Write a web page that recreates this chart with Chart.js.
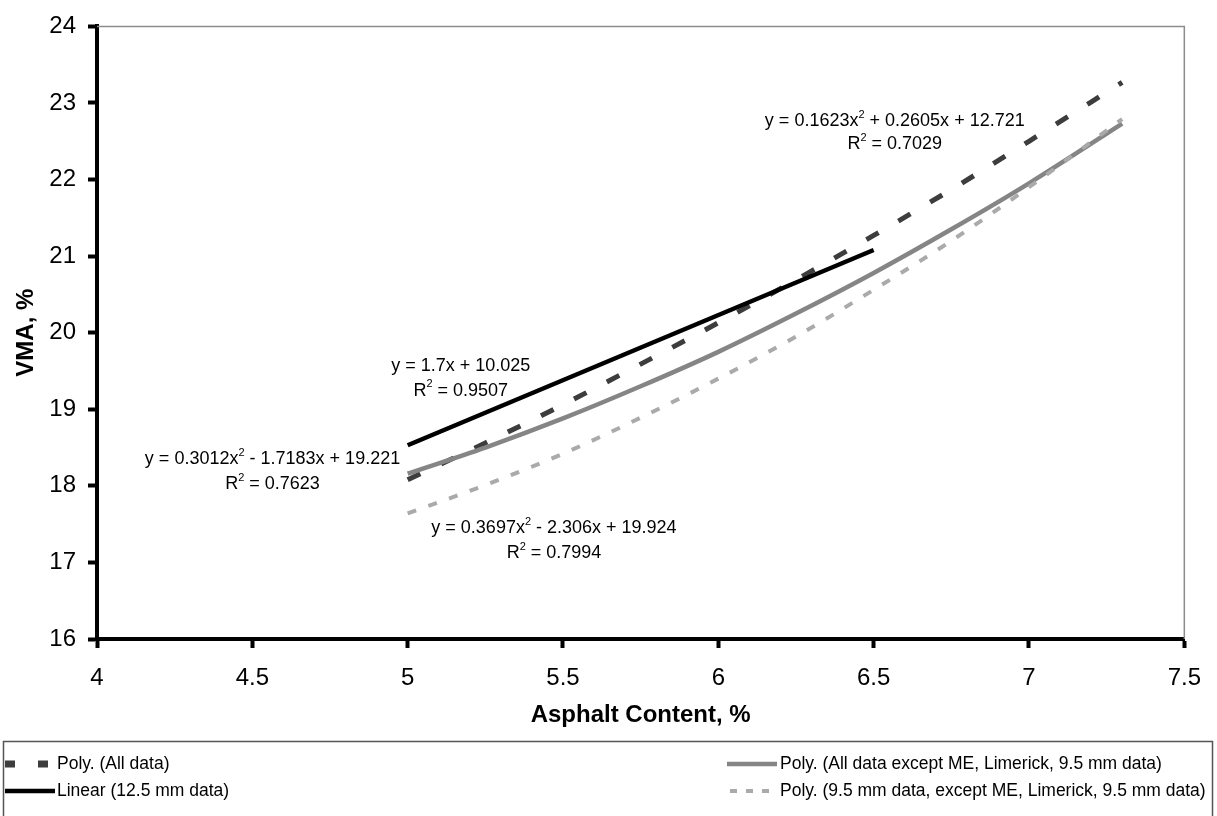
<!DOCTYPE html>
<html>
<head>
<meta charset="utf-8">
<script src="https://cdn.jsdelivr.net/npm/chart.js@4.4.1/dist/chart.umd.min.js"></script>
<style>
    html, body { margin: 0; padding: 0; background: #fff; }
    #wrap { width: 1217px; height: 816px; position: relative; }
</style>
</head>
<body>
<div id="wrap"><canvas id="vmaChart"></canvas></div>
<script>
// x positions of the trend curves (asphalt content, %)
const polyX = [5, 5.25, 5.5, 5.75, 6, 6.25, 6.5, 6.75, 7, 7.3];
const linearX = [5, 6.5];

// VMA, %
const polyAllData    = [18.08, 18.56, 19.06, 19.59, 20.13, 20.69, 21.27, 21.87, 22.50, 23.27];
const linear125      = [18.53, 21.08];
const polyExceptME   = [18.16, 18.50, 18.88, 19.30, 19.75, 20.25, 20.78, 21.35, 21.95, 22.73];
const poly95         = [17.64, 18.01, 18.42, 18.89, 19.40, 19.95, 20.56, 21.20, 21.90, 22.79];

const seriesLabels = [
    'Poly. (All data)',
    'Linear (12.5 mm data)',
    'Poly. (All data except ME, Limerick, 9.5 mm data)',
    'Poly. (9.5 mm data, except ME, Limerick, 9.5 mm data)'
];

const xTicks = [4, 4.5, 5, 5.5, 6, 6.5, 7, 7.5];
const yTicks = [16, 17, 18, 19, 20, 21, 22, 23, 24];

// trendline equations shown on the chart
const equations = [
    ['y = 0.1623x² + 0.2605x + 12.721', 'R² = 0.7029'],
    ['y = 1.7x + 10.025', 'R² = 0.9507'],
    ['y = 0.3012x² - 1.7183x + 19.221', 'R² = 0.7623'],
    ['y = 0.3697x² - 2.306x + 19.924', 'R² = 0.7994']
];

const FONT = '"Liberation Sans", Arial, sans-serif';

function toPoints(xs, ys) {
    return xs.map((x, i) => ({ x: x, y: ys[i] }));
}

// where each equation label sits (data coords of the first line's centre)
const eqAnchors = [
    { x: 6.568, y: 22.76, dy: 23 },
    { x: 5.171, y: 19.57, dy: 25 },
    { x: 4.565, y: 18.35, dy: 25 },
    { x: 5.471, y: 17.45, dy: 25 }
];

// text with a raised "2"
function drawSupText(ctx, text, cx, cy, size) {
    const parts = text.split('²');
    const normal = size + 'px ' + FONT;
    const small = Math.round(size * 0.62) + 'px ' + FONT;
    let total = 0;
    parts.forEach((p, i) => {
        ctx.font = normal;
        total += ctx.measureText(p).width;
        if (i < parts.length - 1) {
            ctx.font = small;
            total += ctx.measureText('2').width;
        }
    });
    let x = cx - total / 2;
    ctx.textAlign = 'left';
    ctx.textBaseline = 'middle';
    parts.forEach((p, i) => {
        ctx.font = normal;
        ctx.fillText(p, x, cy);
        x += ctx.measureText(p).width;
        if (i < parts.length - 1) {
            ctx.font = small;
            ctx.fillText('2', x, cy - size * 0.36);
            x += ctx.measureText('2').width;
        }
    });
}

const frameAndLabels = {
    id: 'frameAndLabels',
    beforeDatasetsDraw(chart) {
        // thin grey top and right edges of the plot area
        const { ctx, chartArea: a } = chart;
        ctx.save();
        ctx.strokeStyle = '#8c8c8c';
        ctx.lineWidth = 1.5;
        ctx.beginPath();
        ctx.moveTo(a.left, a.top);
        ctx.lineTo(a.right, a.top);
        ctx.lineTo(a.right, a.bottom);
        ctx.stroke();
        ctx.restore();
    },
    afterDraw(chart) {
        const { ctx } = chart;
        const xs = chart.scales.x, ys = chart.scales.y;
        ctx.save();
        ctx.fillStyle = '#000';
        equations.forEach((lines, i) => {
            const an = eqAnchors[i];
            const px = xs.getPixelForValue(an.x);
            const py = ys.getPixelForValue(an.y);
            drawSupText(ctx, lines[0], px, py, 18);
            drawSupText(ctx, lines[1], px, py + an.dy, 18);
        });

        // legend box under the chart
        ctx.strokeStyle = '#555';
        ctx.lineWidth = 1.5;
        ctx.strokeRect(3.5, 741.5, 1209, 80);
        const ds = chart.data.datasets;
        const slots = [
            { x0: 5, x1: 55, tx: 57, y: 764 },
            { x0: 5, x1: 55, tx: 57, y: 791 },
            { x0: 727, x1: 777, tx: 780, y: 764 },
            { x0: 730, x1: 777, tx: 780, y: 791 }
        ];
        ds.forEach((d, i) => {
            const s = slots[i];
            ctx.beginPath();
            ctx.strokeStyle = d.borderColor;
            ctx.lineWidth = d.legendWidth;
            ctx.setLineDash(d.legendDash);
            ctx.moveTo(s.x0, s.y);
            ctx.lineTo(s.x1, s.y);
            ctx.stroke();
            ctx.setLineDash([]);
            ctx.fillStyle = '#000';
            ctx.font = '17.5px ' + FONT;
            ctx.textAlign = 'left';
            ctx.textBaseline = 'middle';
            ctx.fillText(d.label, s.tx, s.y);
        });
        ctx.restore();
    }
};

const ctx = document.getElementById('vmaChart').getContext('2d');

const config = {
    type: 'scatter',
    data: {
        datasets: [
            {
                label: seriesLabels[0],
                data: toPoints(polyX, polyAllData),
                borderColor: '#3d3d3d',
                borderWidth: 5,
                borderDash: [14, 23],
                legendDash: [10, 23],
                legendWidth: 7,
                order: 3
            },
            {
                label: seriesLabels[1],
                data: toPoints(linearX, linear125),
                borderColor: '#000',
                borderWidth: 4.5,
                legendDash: [],
                legendWidth: 4.5,
                order: 2
            },
            {
                label: seriesLabels[2],
                data: toPoints(polyX, polyExceptME),
                borderColor: '#858585',
                borderWidth: 4.5,
                legendDash: [],
                legendWidth: 4.5,
                order: 1
            },
            {
                label: seriesLabels[3],
                data: toPoints(polyX, poly95),
                borderColor: '#aaaaaa',
                borderWidth: 4,
                borderDash: [9, 13],
                legendDash: [7, 9],
                legendWidth: 4,
                order: 0
            }
        ].map(d => Object.assign(d, {
            showLine: true,
            pointRadius: 0,
            pointHoverRadius: 0,
            fill: false,
            cubicInterpolationMode: 'monotone'
        }))
    },
    options: {
        responsive: true,
        maintainAspectRatio: false,
        animation: false,
        layout: {
            autoPadding: false,
            padding: { left: 0, top: 19, right: 30, bottom: 75 }
        },
        plugins: {
            legend: { display: false },
            tooltip: { enabled: false }
        },
        scales: {
            x: {
                type: 'linear',
                min: 4,
                max: 7.5,
                afterBuildTicks: s => { s.ticks = xTicks.map(v => ({ value: v })); },
                afterFit: s => { s.height = 102; },
                border: { display: true, color: '#000', width: 4 },
                grid: {
                    drawOnChartArea: false,
                    drawTicks: true,
                    tickLength: 9,
                    tickWidth: 4,
                    tickColor: '#000'
                },
                ticks: {
                    color: '#000',
                    font: { family: FONT, size: 24 },
                    padding: 16,
                    maxRotation: 0,
                    callback: v => String(v)
                },
                title: {
                    display: true,
                    text: 'Asphalt Content, %',
                    color: '#000',
                    font: { family: FONT, size: 24, weight: 'bold' },
                    padding: { top: 0, bottom: 11 }
                }
            },
            y: {
                type: 'linear',
                min: 16,
                max: 24,
                afterBuildTicks: s => { s.ticks = yTicks.map(v => ({ value: v })); },
                afterFit: s => { s.width = 97; },
                border: { display: true, color: '#000', width: 4 },
                grid: {
                    drawOnChartArea: false,
                    drawTicks: true,
                    tickLength: 9,
                    tickWidth: 4,
                    tickColor: '#000'
                },
                ticks: {
                    color: '#000',
                    font: { family: FONT, size: 24 },
                    padding: 12,
                    callback: v => String(v)
                },
                title: {
                    display: true,
                    text: 'VMA, %',
                    color: '#000',
                    font: { family: FONT, size: 24, weight: 'bold' },
                    padding: { top: 12, bottom: 0 }
                }
            }
        }
    },
    plugins: [frameAndLabels]
};

new Chart(ctx, config);
</script>
</body>
</html>
